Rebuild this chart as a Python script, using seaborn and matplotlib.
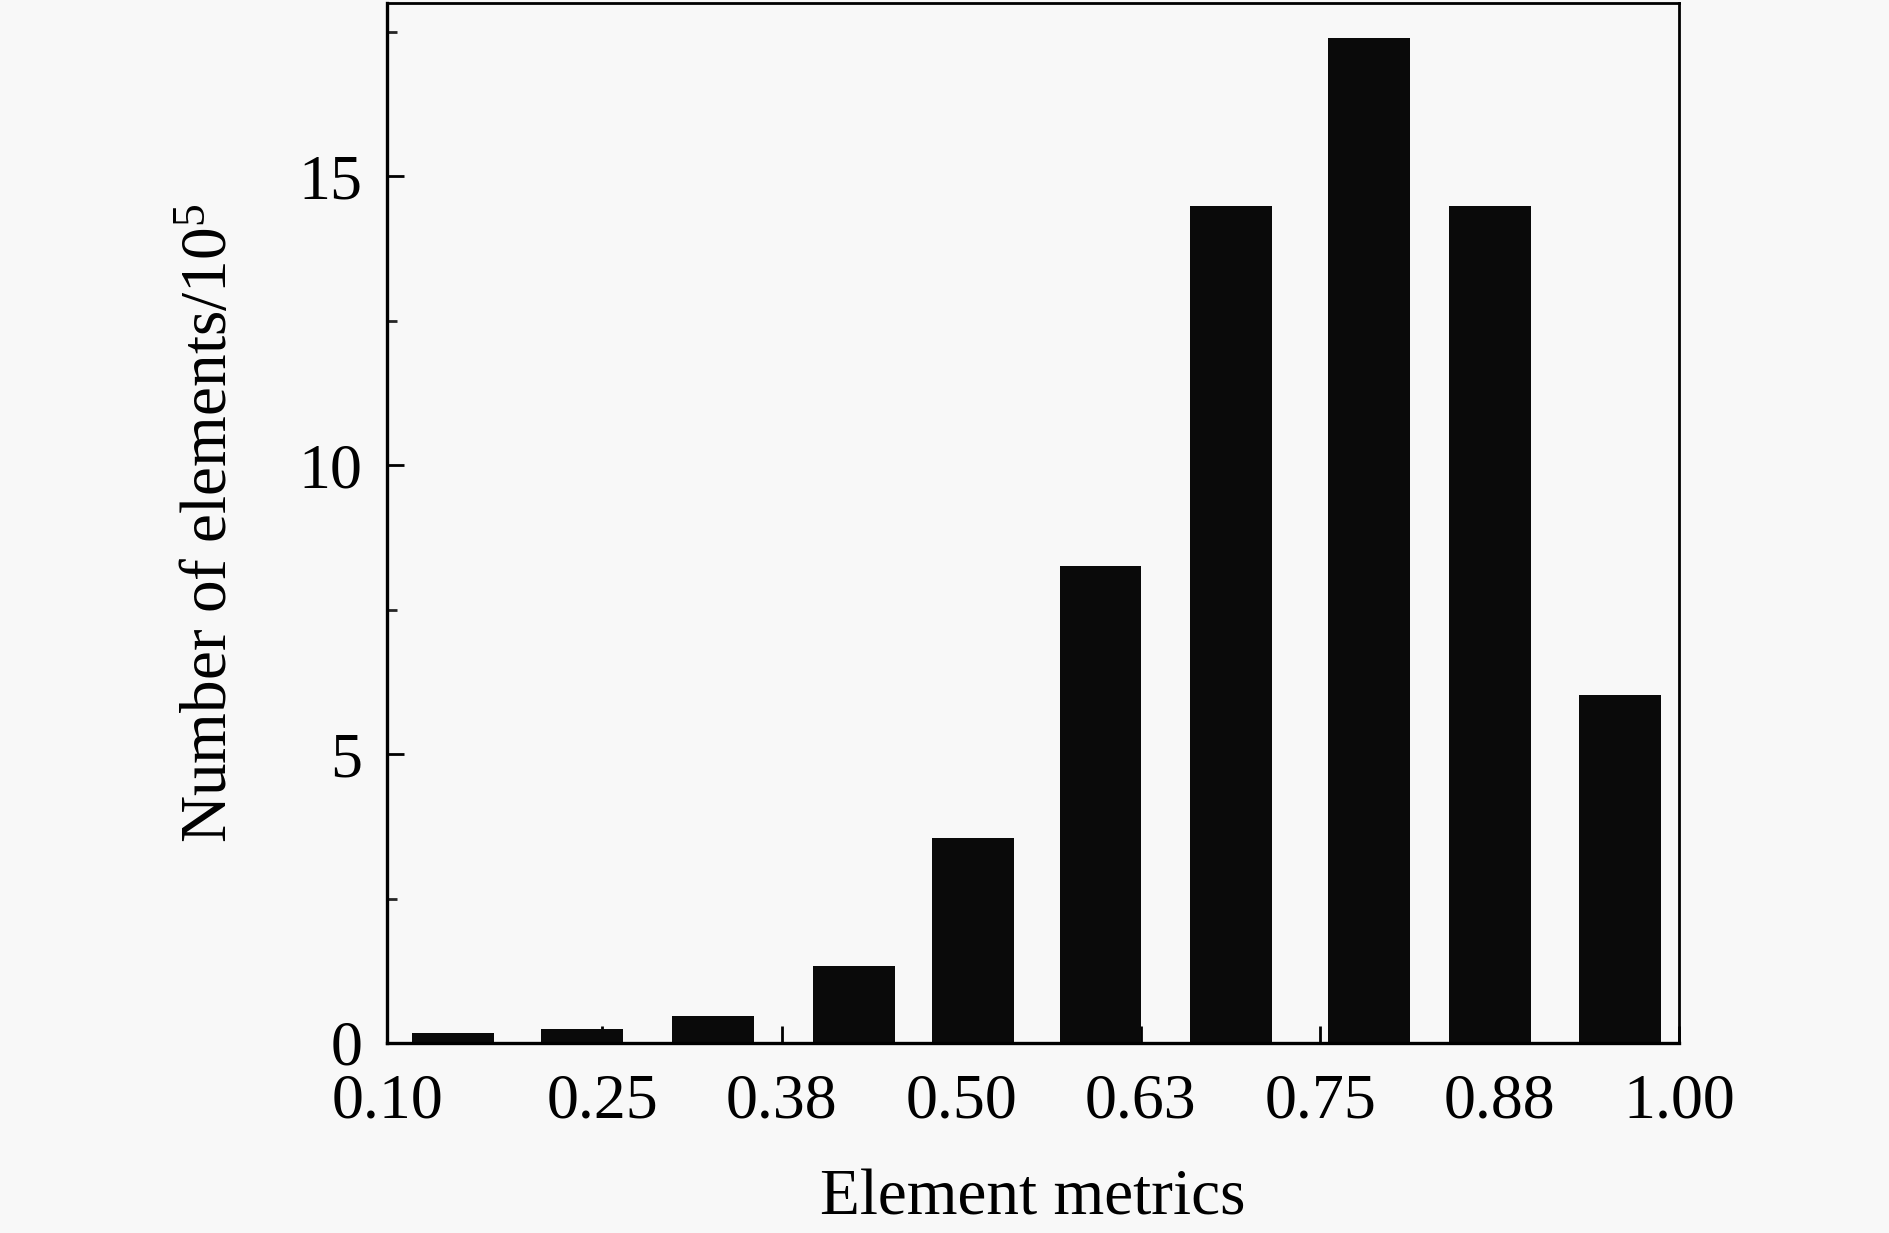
import numpy as np
import pandas as pd
import matplotlib
matplotlib.use("Agg")
import matplotlib.pyplot as plt
import seaborn as sns

# ---- data ----
bin_centers = [0.146, 0.236, 0.327, 0.425, 0.508, 0.597, 0.688, 0.784, 0.868, 0.959]
counts_1e5 = [0.17, 0.25, 0.46, 1.34, 3.55, 8.26, 14.48, 17.39, 14.48, 6.03]
x_tick_values = [0.10, 0.25, 0.375, 0.50, 0.625, 0.75, 0.875, 1.00]
x_tick_labels = ["0.10", "0.25", "0.38", "0.50", "0.63", "0.75", "0.88", "1.00"]
y_tick_values = [0, 5, 10, 15]
y_minor_values = [2.5, 7.5, 12.5, 17.5]

df = pd.DataFrame({"metric": bin_centers, "count": counts_1e5})

sns.set_style("ticks")
bg = "#f8f8f8"
plt.rcParams["font.family"] = ["Liberation Serif", "DejaVu Serif"]
plt.rcParams["mathtext.fontset"] = "custom"
plt.rcParams["mathtext.rm"] = "Liberation Serif"
plt.rcParams["mathtext.it"] = "Liberation Serif:italic"
plt.rcParams["mathtext.bf"] = "Liberation Serif:bold"

fig = plt.figure(figsize=(18.9, 12.33), dpi=100, facecolor=bg)
ax = fig.add_axes([0.2048, 0.1541, 0.6836, 0.8435])
ax.set_facecolor(bg)

sns.barplot(data=df, x="metric", y="count", native_scale=True, orient="x",
            errorbar=None, color="#0a0a0a", saturation=1, width=0.687,
            edgecolor="none", linewidth=0, ax=ax)

ax.set_xlim(0.10, 1.00)
ax.set_ylim(0, 18)

ax.set_xticks(x_tick_values)
ax.set_xticklabels(x_tick_labels)
ax.set_yticks(y_tick_values)
ax.set_yticklabels([str(v) for v in y_tick_values])
ax.set_yticks(y_minor_values, minor=True)
ax.xaxis.set_minor_locator(matplotlib.ticker.NullLocator())

ax.tick_params(axis="both", which="major", direction="in", length=12, width=2,
               labelsize=46, color="black", labelcolor="black")
ax.tick_params(axis="x", which="major", pad=22)
ax.tick_params(axis="y", which="major", pad=18)
ax.tick_params(axis="y", which="minor", direction="in", length=7, width=2)
ax.tick_params(top=False, right=False, which="both")

for side in ["left", "bottom"]:
    ax.spines[side].set_linewidth(2.4)
for side in ["top", "right"]:
    ax.spines[side].set_linewidth(2.0)
    ax.spines[side].set_visible(True)
for s in ax.spines.values():
    s.set_color("black")

ax.set_xlabel("Element metrics", fontsize=47, labelpad=27, color="black")
ax.set_ylabel(r"Number of elements/10$^{5}$", fontsize=47, labelpad=42, color="black")

fig.savefig("out.png", dpi=100, facecolor=bg)
